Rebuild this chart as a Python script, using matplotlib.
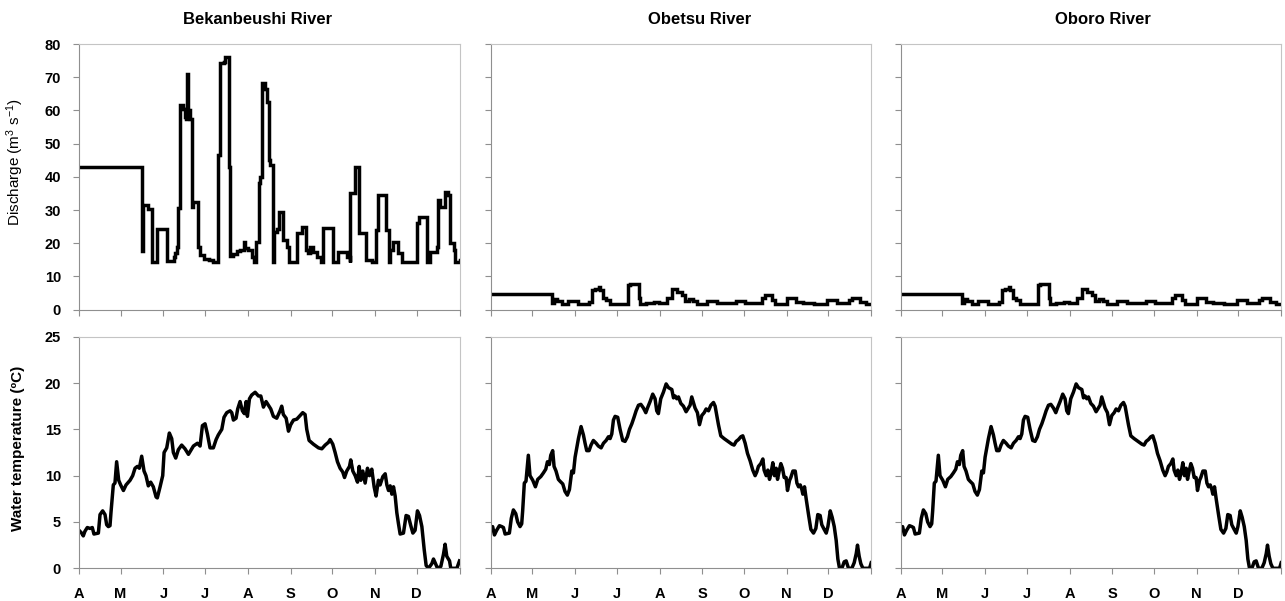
import numpy as np
import matplotlib
matplotlib.use("Agg")
import matplotlib.pyplot as plt
import matplotlib.transforms as mtransforms

plt.rcParams["font.family"] = ["Liberation Sans", "DejaVu Sans"]
plt.rcParams["mathtext.default"] = "regular"

# days since 1 April; month starts for the x axis
month_starts = [0, 30, 61, 91, 122, 153, 183, 214, 244, 275]
month_labels = ["A", "M", "J", "J", "A", "S", "O", "N", "D"]
rivers = ["Bekanbeushi River", "Obetsu River", "Oboro River"]

# discharge (m3/s), step changes: day the level starts, level
bek_q_day = [0, 45.3, 46.1, 50.2, 52.6, 56.2, 63.9, 68.3, 69.5, 70.7, 71.9, 73.1, 75.5, 76.5, 77.5,
             78.4, 79.0, 80.0, 81.5, 82.7, 85.9, 87.5, 90.0, 93.6, 97.2, 100.8, 101.6, 104.5, 105.7,
             108.1, 108.8, 111.5, 114.1, 116.5, 118.9, 120.1, 122.5, 125.0, 126.2, 128.1, 129.8,
             131.0, 132.2, 134.6, 135.8, 137.0, 138.2, 140.2, 140.6, 143.0, 144.2, 147.4, 150.3,
             151.5, 157.5, 161.2, 164.3, 165.8, 167.0, 169.4, 171.8, 174.7, 176.7, 183.9, 187.5,
             193.5, 195.5, 196.0, 199.6, 202.7, 207.3, 211.6, 214.5, 216.4, 222.0, 223.7, 224.9,
             226.8, 230.9, 233.3, 244.2, 245.4, 251.4, 253.8, 258.6, 259.8, 261.0, 264.2, 267.0,
             268.3, 270.7, 271.9, 275]
bek_q = [43.0, 17.7, 31.5, 30.2, 14.4, 24.2, 14.6, 15.8, 17.0, 18.9, 30.5, 61.6, 60.5, 58.0, 57.5,
         71.0, 60.0, 57.5, 31.0, 32.5, 18.9, 16.4, 15.4, 14.9, 14.4, 46.5, 74.2, 74.7, 76.0,
         43.0, 16.1, 16.9, 17.7, 18.1, 20.5, 18.5, 17.9, 16.0, 14.4, 20.5, 38.0,
         40.0, 68.2, 66.5, 62.6, 45.0, 43.5, 14.4, 23.4, 24.4, 29.5, 20.9, 18.9,
         14.4, 23.0, 24.8, 18.0, 17.0, 19.0, 17.5, 16.0, 14.5, 24.5, 14.5, 17.5,
         16.0, 14.5, 35.0, 43.0, 23.0, 15.0, 14.5, 24.0, 34.5, 24.0, 14.5, 18.0,
         20.5, 17.0, 14.5, 26.0, 28.0, 14.5, 17.5, 19.0, 33.0, 31.0, 35.5, 34.5,
         20.0, 18.0, 14.5, 15.0]

obe_q_day = [0, 44, 45.5, 48, 51.5, 56, 63, 71, 73, 75.5, 78, 79, 81, 83, 86.5, 99.5, 101, 107.5,
             108, 112, 118, 121.5, 127.5, 131, 135, 138, 140.5, 143, 146.5, 149, 156, 163.5, 177,
             184, 196, 198.5, 203, 205.5, 214, 221, 226, 233.5, 243, 250.5, 259, 261, 267, 271, 275]
obe_q = [4.7, 1.9, 3.2, 2.6, 1.6, 2.7, 1.6, 2.4, 5.8, 6.3, 6.8, 5.8, 3.4, 2.9, 1.6, 7.3, 7.6, 3.4,
         1.7, 2.1, 2.2, 1.9, 3.4, 6.3, 5.3, 4.4, 2.6, 3.2, 2.6, 1.7, 2.6, 1.9, 2.6,
         1.9, 3.4, 4.4, 2.9, 1.7, 3.6, 2.4, 1.9, 1.6, 2.9, 1.9, 2.9, 3.6, 2.4, 1.6, 1.6]

# Oboro gauge shows the same record as Obetsu
obo_q_day = list(obe_q_day)
obo_q = list(obe_q)

# water temperature (deg C)
bek_t_day = [0, 1.9, 3.1, 4.3, 6.0, 8.0, 9.6, 10.8, 14.0, 15.2, 17.1, 18.8, 20.0, 21.2, 22.4, 23.1,
             24.8, 26.0, 27.2, 28.7, 30.1, 32.1, 34.0, 36.9, 38.8, 40.5, 42.2, 43.6, 45.3, 47.0,
             48.4, 50.1, 51.8, 53.7, 55.7, 56.6, 58.6, 60.5, 61.5, 63.4, 65.3, 67.0, 68.2, 69.9,
             71.8, 74.2, 76.6, 79.1, 80.7, 82.7, 85.6, 87.5, 89.2, 91.1, 92.8, 94.7, 97.1, 99.1,
             100.7, 103.2, 104.8, 106.8, 109.2, 110.4, 111.6, 113.5, 114.7, 116.4, 118.1, 119.5,
             120.8, 121.7, 123.2, 124.8, 127.3, 129.7, 131.4, 133.3, 135.2, 136.9, 138.6, 140.5,
             142.9, 145.3, 146.5, 147.7, 149.7, 151.4, 153.0, 155.0, 157.4, 159.8, 161.7, 163.4,
             164.6, 166.3, 169.4, 173.1, 175.5, 177.9, 180.3, 181.5, 183.4, 185.1, 186.8, 188.7,
             190.6, 191.9, 193.5, 195.5, 196.4, 197.9, 199.6, 201.3, 202.5, 203.7, 205.1, 206.8,
             208.5, 209.9, 211.6, 213.3, 214.7, 216.4, 217.6, 219.6, 221.3, 222.5, 223.7, 224.9,
             226.1, 227.3, 228.5, 229.7, 230.9, 232.1, 234.5, 236.4, 238.1, 239.8, 241.3, 242.9,
             244.6, 246.1, 247.8, 249.5, 250.9, 252.6, 255.0, 256.2, 257.4, 259.1, 261.5, 263.4,
             264.6, 265.8, 267.8, 268.7, 273.1, 275]
bek_t = [4.1, 3.8, 3.5, 4.0, 4.4, 4.3, 4.4, 3.7, 3.8, 5.8, 6.2, 5.8, 4.7, 4.5, 4.6, 6.0,
         9.0, 9.2, 11.5, 9.5, 9.0, 8.4, 9.0, 9.5, 10.0, 10.8, 11.0, 10.8, 12.1, 10.5,
         10.0, 8.9, 9.3, 8.8, 7.7, 7.6, 8.8, 10.0, 12.5, 13.0, 14.6, 14.0, 12.5, 11.9,
         12.8, 13.3, 12.9, 12.3, 12.7, 13.2, 13.5, 13.2, 15.4, 15.6, 14.5, 13.0, 13.0, 13.9,
         14.4, 15.0, 16.3, 16.8, 17.0, 16.8, 16.0, 16.2, 17.2, 18.0, 17.0, 16.7,
         18.0, 16.4, 18.3, 18.7, 19.0, 18.6, 18.6, 17.4, 18.0, 17.6, 17.2, 16.4,
         16.2, 17.0, 17.5, 16.6, 16.2, 14.8, 15.5, 16.0, 16.1, 16.5, 16.8, 16.6,
         15.0, 13.8, 13.4, 13.0, 12.9, 13.3, 13.6, 13.9, 13.4, 12.5, 11.5, 10.8,
         10.4, 9.8, 10.5, 11.0, 11.7, 10.5, 10.0, 9.3, 11.0, 9.5, 10.5, 9.2,
         10.8, 10.0, 10.7, 8.8, 7.8, 9.5, 9.0, 9.9, 10.2, 9.0, 8.4, 8.9,
         8.0, 8.8, 7.8, 6.0, 4.8, 3.7, 3.8, 5.7, 5.6, 4.6, 3.8, 4.1,
         6.2, 5.7, 4.5, 2.0, 0.3, 0.0, 0.5, 1.0, 0.6, 0.0, 0.2, 1.5,
         2.6, 1.3, 0.8, 0.0, 0.0, 0.8]

obe_t_day = [0, 1.4, 2.7, 4.3, 6.3, 8.0, 9.2, 10.4, 13.5, 14.9, 16.4, 18.1, 19.5, 21.2, 22.4, 23.1,
             24.3, 25.5, 27.2, 28.4, 30.4, 32.3, 34.0, 36.2, 38.1, 39.8, 41.0, 42.4, 43.4, 44.8,
             45.8, 47.2, 48.9, 50.1, 52.1, 53.7, 55.4, 56.9, 58.6, 59.8, 61.0, 62.2, 63.4, 65.3,
             67.0, 68.2, 69.4, 71.1, 72.5, 74.2, 76.2, 77.8, 79.8, 81.5, 83.4, 85.1, 86.3, 87.5,
             88.7, 89.9, 91.8, 93.5, 95.4, 97.1, 98.8, 100.3, 102.0, 103.6, 105.1, 106.8, 108.5,
             110.4, 112.1, 113.3, 115.2, 117.1, 118.8, 120.0, 121.2, 122.9, 124.8, 126.8, 128.5,
             130.9, 132.1, 133.3, 134.5, 135.7, 137.4, 139.3, 141.2, 142.9, 144.1, 145.3, 146.5,
             147.7, 149.4, 150.9, 152.6, 154.3, 155.7, 157.4, 159.1, 161.0, 162.2, 163.4, 164.6,
             166.3, 168.7, 170.6, 172.6, 174.3, 175.9, 177.4, 179.1, 180.8, 182.2, 183.9, 185.6,
             187.5, 189.4, 191.1, 192.3, 193.5, 195.2, 196.7, 197.6, 199.1, 200.3, 201.5, 202.5,
             203.9, 205.1, 206.3, 207.3, 208.5, 209.7, 210.9, 212.1, 213.5, 214.5, 216.0, 216.9,
             218.4, 220.1, 221.3, 222.5, 223.7, 224.9, 225.6, 226.8, 228.0, 229.7, 231.4, 233.3,
             235.0, 236.4, 238.1, 239.3, 241.0, 242.5, 243.7, 245.4, 246.8, 248.3, 249.7, 250.9,
             252.1, 253.8, 255.5, 256.9, 258.6, 261.0, 262.7, 264.2, 265.1, 266.3, 267.5, 269.0,
             273.8, 275]
obe_t = [4.3, 4.5, 3.6, 4.1, 4.6, 4.5, 4.4, 3.7, 3.8, 5.4, 6.3, 5.9, 5.0, 4.5, 4.8, 6.2,
         9.2, 9.4, 12.2, 10.0, 9.5, 8.8, 9.6, 9.9, 10.3, 10.7, 11.5, 11.2, 12.2, 12.7,
         11.0, 10.5, 9.6, 9.4, 9.1, 8.3, 7.9, 8.5, 10.5, 10.3, 12.0, 13.0, 14.0, 15.3,
         14.4, 13.5, 12.7, 12.7, 13.3, 13.8, 13.5, 13.2, 13.0, 13.5, 13.8, 14.2, 14.0, 14.5,
         16.0, 16.4, 16.3, 15.0, 13.8, 13.7, 14.2, 15.0, 15.6, 16.3, 17.0, 17.6, 17.7,
         17.3, 16.8, 17.3, 18.0, 18.8, 18.3, 17.0, 16.7, 18.3, 19.0, 19.9, 19.5,
         19.3, 18.4, 18.6, 18.3, 18.5, 17.8, 17.5, 16.9, 17.3, 17.6, 18.5, 17.9,
         17.3, 16.8, 15.5, 16.5, 16.8, 17.2, 17.0, 17.6, 17.9, 17.5, 16.5, 15.5,
         14.3, 14.0, 13.8, 13.6, 13.4, 13.3, 13.7, 13.9, 14.2, 14.3, 13.5, 12.4,
         11.6, 10.6, 10.0, 10.4, 11.0, 11.3, 11.8, 10.6, 10.0, 10.6, 9.6, 10.2,
         11.4, 10.0, 10.8, 9.6, 10.5, 11.3, 10.8, 9.8, 9.8, 8.4, 9.5, 9.8,
         10.5, 10.5, 9.2, 8.8, 9.0, 8.5, 8.0, 8.8, 7.5, 5.8, 4.2, 3.8,
         4.3, 5.8, 5.7, 4.7, 4.2, 3.8, 4.5, 6.2, 5.5, 4.5, 3.0, 1.0,
         0.0, 0.0, 0.7, 0.8, 0.0, 0.0, 0.6, 1.6, 2.5, 1.3, 0.5, 0.0,
         0.0, 0.6]

obo_t_day = list(obe_t_day)
obo_t = list(obe_t)

discharge = [(bek_q_day, bek_q), (obe_q_day, obe_q), (obo_q_day, obo_q)]
temperature = [(bek_t_day, bek_t), (obe_t_day, obe_t), (obo_t_day, obo_t)]

W, H = 1285, 601
fig = plt.figure(figsize=(W / 100, H / 100), dpi=100)

col_left = [79, 490.7, 900.7]
col_width = 380.5
rows = [(44, 309.7), (336.7, 568.3)]  # pixel top/bottom of each row

spine_col = "#8f8f8f"
label_shift = mtransforms.ScaledTranslation(2.5 / 100, 0, fig.dpi_scale_trans)

for c in range(3):
    for r in range(2):
        top, bottom = rows[r]
        ax = fig.add_axes([col_left[c] / W, 1 - bottom / H, col_width / W, (bottom - top) / H])
        if r == 0:
            d, v = discharge[c]
            ax.plot(d, v, drawstyle="steps-post", color="black", lw=2.5, solid_joinstyle="miter")
            ax.set_ylim(0, 80)
            ax.set_yticks(np.arange(0, 81, 10))
        else:
            d, v = temperature[c]
            ax.plot(d, v, color="black", lw=2.5)
            ax.set_ylim(0, 25)
            ax.set_yticks(np.arange(0, 26, 5))
        ax.set_xlim(0, 275)
        ax.set_xticks(month_starts)
        if r == 1:
            ax.set_xticklabels(month_labels + [""])
            for lbl in ax.get_xticklabels():
                lbl.set_transform(lbl.get_transform() + label_shift)
        else:
            ax.set_xticklabels([])
        if c != 0:
            ax.set_yticklabels([])
        for s in ax.spines.values():
            s.set_color(spine_col)
            s.set_linewidth(0.8)
        for s in ("top", "right"):
            ax.spines[s].set_color("#c4c4c4")
        ax.tick_params(direction="out", length=4.5, width=0.8, color=spine_col, labelsize=10.5)
        ax.tick_params(axis="y", pad=8.5)
        ax.tick_params(axis="x", pad=9)
        for lbl in ax.get_xticklabels() + ax.get_yticklabels():
            lbl.set_fontweight("bold")

title_x = [258, 700, 1103]
for name, x in zip(rivers, title_x):
    fig.text(x / W, 1 - 19 / H, name, ha="center", va="center", fontsize=12, fontweight="bold")

fig.text(15 / W, 1 - 162 / H, "Discharge (m$^3$ s$^{-1}$)", rotation=90,
         ha="center", va="center", fontsize=11)
fig.text(18 / W, 1 - 448 / H, "Water temperature (ºC)", rotation=90,
         ha="center", va="center", fontsize=11, fontweight="bold")

fig.savefig("out.png", dpi=100)
